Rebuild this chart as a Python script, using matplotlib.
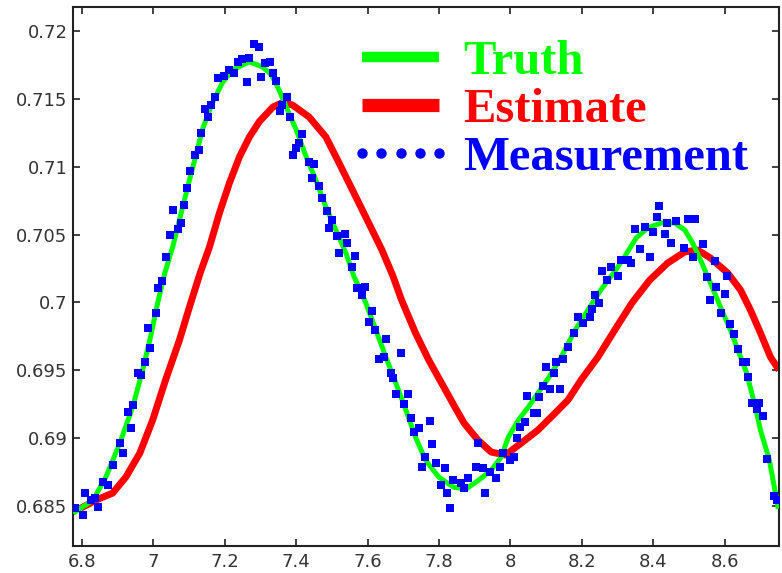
import numpy as np
import matplotlib.pyplot as plt
from matplotlib.lines import Line2D

# truth curve (green)
truth_x = [6.775, 6.831, 6.867, 6.906, 6.942, 6.970, 6.992, 7.012, 7.032, 7.054,
           7.082, 7.101, 7.118, 7.137, 7.165, 7.193, 7.221, 7.269, 7.305, 7.330,
           7.352, 7.372, 7.400, 7.428, 7.455, 7.483, 7.511, 7.539, 7.562, 7.595,
           7.623, 7.651, 7.679, 7.707, 7.734, 7.762, 7.799, 7.840, 7.875, 7.911,
           7.946, 7.974, 7.994, 8.022, 8.050, 8.077, 8.108, 8.142, 8.181, 8.217,
           8.253, 8.295, 8.325, 8.352, 8.384, 8.421, 8.460, 8.488, 8.510, 8.532,
           8.560, 8.588, 8.616, 8.637, 8.660, 8.683, 8.700, 8.725, 8.750]
truth_y = [0.68448, 0.68544, 0.68714, 0.68964, 0.69229, 0.69502, 0.69745, 0.69996, 0.70217, 0.70408,
           0.70703, 0.70902, 0.71072, 0.71271, 0.71469, 0.71617, 0.71713, 0.71772, 0.71735, 0.71680,
           0.71565, 0.71440, 0.71271, 0.71072, 0.70902, 0.70703, 0.70534, 0.70364, 0.70190, 0.69996,
           0.69797, 0.69598, 0.69406, 0.69207, 0.69008, 0.68839, 0.68714, 0.68640, 0.68625, 0.68691,
           0.68765, 0.68861, 0.69008, 0.69134, 0.69229, 0.69333, 0.69450, 0.69598, 0.69797, 0.69944,
           0.70092, 0.70239, 0.70360, 0.70475, 0.70548, 0.70585, 0.70585, 0.70534, 0.70438, 0.70313,
           0.70143, 0.69966, 0.69797, 0.69649, 0.69490, 0.69259, 0.69060, 0.68839, 0.68480]

# estimate curve (red)
est_x = [6.797, 6.839, 6.886, 6.923, 6.962, 6.998, 7.034, 7.073, 7.101, 7.131,
         7.157, 7.185, 7.213, 7.241, 7.269, 7.297, 7.335, 7.360, 7.389, 7.436,
         7.483, 7.520, 7.567, 7.603, 7.640, 7.670, 7.695, 7.734, 7.771, 7.807,
         7.840, 7.870, 7.909, 7.946, 7.986, 8.030, 8.077, 8.125, 8.161, 8.198,
         8.245, 8.292, 8.340, 8.390, 8.440, 8.488, 8.524, 8.560, 8.608, 8.644,
         8.672, 8.700, 8.728, 8.752]
est_y = [0.68485, 0.68544, 0.68596, 0.68714, 0.68890, 0.69134, 0.69428, 0.69723, 0.69966, 0.70217,
         0.70408, 0.70659, 0.70880, 0.71072, 0.71219, 0.71333, 0.71440, 0.71470, 0.71455, 0.71366,
         0.71219, 0.71027, 0.70777, 0.70585, 0.70386, 0.70200, 0.70018, 0.69775, 0.69576, 0.69406,
         0.69250, 0.69111, 0.68986, 0.68898, 0.68876, 0.68964, 0.69060, 0.69185, 0.69281, 0.69430,
         0.69598, 0.69797, 0.69996, 0.70165, 0.70290, 0.70372, 0.70386, 0.70327, 0.70217, 0.70092,
         0.69944, 0.69775, 0.69598, 0.69502]

# noisy measurements (blue squares)
meas_x = [6.7805, 6.8028, 6.8084, 6.8251, 6.8363, 6.8446, 6.8586, 6.8725, 6.8865, 6.9060,
          6.9144, 6.9283, 6.9367, 6.9423, 6.9562, 6.9646, 6.9757, 6.9897, 6.9841, 7.0064,
          7.0120, 7.0232, 7.0343, 7.0455, 7.0538, 7.0678, 7.0762, 7.0845, 7.0929, 7.1013,
          7.1152, 7.1264, 7.1347, 7.1459, 7.1543, 7.1626, 7.1738, 7.1822, 7.1989, 7.2128,
          7.2268, 7.2379, 7.2491, 7.2630, 7.2686, 7.2826, 7.2965, 7.3021, 7.3133, 7.3272,
          7.3356, 7.3439, 7.3746, 7.3607, 7.3551, 7.3830, 7.4165, 7.4081, 7.3997, 7.3914,
          7.4360, 7.4499, 7.4444, 7.4639, 7.4722, 7.4862, 7.5001, 7.4918, 7.5141, 7.5364,
          7.5420, 7.5197, 7.5643, 7.5559, 7.5699, 7.5922, 7.5838, 7.6117, 7.6033, 7.6201,
          7.6508, 7.6926, 7.6452, 7.6313, 7.6647, 7.6703, 7.6787, 7.7121, 7.7010, 7.7205,
          7.7735, 7.7428, 7.7289, 7.7791, 7.7596, 7.7512, 7.7903, 7.8153, 7.8042, 7.8404,
          7.8209, 7.8293, 7.8628, 7.8823, 7.8711, 7.9102, 7.9046, 7.9241, 7.9437, 7.9604,
          7.9297, 7.9715, 7.9799, 7.9994, 8.0106, 8.0190, 8.0273, 8.0413, 8.0664, 8.0748,
          8.0469, 8.0804, 8.0915, 8.1111, 8.1390, 8.1222, 8.0999, 8.1278, 8.1473, 8.1613,
          8.1780, 8.1891, 8.2031, 8.2226, 8.2282, 8.2366, 8.2477, 8.2561, 8.2700, 8.2812,
          8.3007, 8.3091, 8.3286, 8.3370, 8.3481, 8.3621, 8.3760, 8.3900, 8.3984, 8.4095,
          8.4151, 8.4318, 8.4374, 8.4486, 8.4625, 8.4960, 8.5155, 8.4848, 8.5100, 8.5378,
          8.5713, 8.5490, 8.5769, 8.6075, 8.6020, 8.5573, 8.5908, 8.6159, 8.6271, 8.6382,
          8.6522, 8.6605, 8.6661, 8.6773, 8.6968, 8.6912, 8.7080, 8.7191, 8.7387, 8.7470]
meas_y = [0.68485, 0.68433, 0.68596, 0.68544, 0.68559, 0.68492, 0.68677, 0.68654, 0.68802, 0.68964,
          0.68890, 0.69192, 0.69075, 0.69244, 0.69480, 0.69465, 0.69561, 0.69664, 0.69811, 0.69922,
          0.70106, 0.70158, 0.70335, 0.70497, 0.70681, 0.70541, 0.70585, 0.70718, 0.70843, 0.70968,
          0.71086, 0.71123, 0.71248, 0.71425, 0.71366, 0.71455, 0.71514, 0.71654, 0.71668, 0.71713,
          0.71691, 0.71772, 0.71794, 0.71624, 0.71801, 0.71904, 0.71882, 0.71661, 0.71764, 0.71772,
          0.71691, 0.71632, 0.71514, 0.71455, 0.71410, 0.71366, 0.71241, 0.71175, 0.71138, 0.71086,
          0.71035, 0.71020, 0.70917, 0.70858, 0.70769, 0.70674, 0.70607, 0.70548, 0.70489, 0.70504,
          0.70438, 0.70364, 0.70342, 0.70261, 0.70106, 0.70114, 0.70055, 0.69937, 0.69856, 0.69797,
          0.69730, 0.69627, 0.69598, 0.69583, 0.69480, 0.69443, 0.69325, 0.69325, 0.69251, 0.69148,
          0.69126, 0.69075, 0.69045, 0.68957, 0.68861, 0.68787, 0.68817, 0.68780, 0.68654, 0.68691,
          0.68596, 0.68485, 0.68669, 0.68706, 0.68632, 0.68964, 0.68787, 0.68780, 0.68750, 0.68706,
          0.68596, 0.68787, 0.68890, 0.68839, 0.68861, 0.69001, 0.69082, 0.69119, 0.69185, 0.69185,
          0.69310, 0.69303, 0.69384, 0.69362, 0.69362, 0.69480, 0.69524, 0.69561, 0.69583, 0.69671,
          0.69775, 0.69892, 0.69848, 0.69892, 0.69951, 0.70055, 0.69996, 0.70231, 0.70165, 0.70261,
          0.70195, 0.70312, 0.70312, 0.70290, 0.70541, 0.70394, 0.70556, 0.70335, 0.70519, 0.70629,
          0.70710, 0.70504, 0.70585, 0.70438, 0.70600, 0.70615, 0.70615, 0.70401, 0.70335, 0.70430,
          0.70305, 0.70187, 0.70114, 0.70195, 0.70062, 0.70018, 0.69922, 0.69841, 0.69767, 0.69657,
          0.69561, 0.69561, 0.69450, 0.69259, 0.69259, 0.69214, 0.69163, 0.68846, 0.68573, 0.68544]

x_ticks = [6.8, 7, 7.2, 7.4, 7.6, 7.8, 8, 8.2, 8.4, 8.6]
x_labels = ['6.8', '7', '7.2', '7.4', '7.6', '7.8', '8', '8.2', '8.4', '8.6']
y_ticks = [0.685, 0.69, 0.695, 0.7, 0.705, 0.71, 0.715, 0.72]
y_labels = ['0.685', '0.69', '0.695', '0.7', '0.705', '0.71', '0.715', '0.72']

plt.rcParams['font.family'] = ['DejaVu Sans']

fig = plt.figure(figsize=(7.82, 5.73), dpi=100)
ax = fig.add_axes([0.0934, 0.0471, 0.9028, 0.9407])

ax.plot(est_x, est_y, color='#ff0000', lw=5.0, solid_capstyle='butt', zorder=2)
ax.plot(truth_x, truth_y, color='#00ff00', lw=3.6, solid_capstyle='butt', zorder=3)
ax.plot(meas_x, meas_y, ls='none', marker='s', ms=5.8, color='#0000ff',
        markeredgewidth=0, zorder=4)

ax.set_xlim(6.775, 8.752)
ax.set_ylim(0.68206, 0.72176)
ax.set_xticks(x_ticks)
ax.set_xticklabels(x_labels)
ax.set_yticks(y_ticks)
ax.set_yticklabels(y_labels)
ax.tick_params(direction='in', length=5, width=1.2, top=True, right=True,
               labelsize=13, labelcolor='#333333', color='#222222')
ax.tick_params(axis='x', pad=5)
ax.tick_params(axis='y', pad=4)
for sp in ax.spines.values():
    sp.set_linewidth(1.5)
    sp.set_color('#222222')

handles = [
    Line2D([], [], color='#00ff00', lw=7.5, solid_capstyle='butt'),
    Line2D([], [], color='#ff0000', lw=9.5, solid_capstyle='butt'),
    Line2D([], [], color='#0000ff', ls='none', marker='o', ms=7.5, markeredgewidth=0),
]
leg = ax.legend(handles, ['Truth', 'Estimate', 'Measurement'], loc='upper left',
                bbox_to_anchor=(0.389, 0.939), frameon=False, numpoints=5,
                prop={'family': 'Liberation Serif', 'weight': 'bold', 'size': 35},
                handlelength=2.18, handletextpad=0.19, labelspacing=0.08,
                borderpad=0.0, borderaxespad=0.0)
for txt, c in zip(leg.get_texts(), ['#00ff00', '#ff0000', '#0000ff']):
    txt.set_color(c)

fig.savefig('out.png', dpi=100)
